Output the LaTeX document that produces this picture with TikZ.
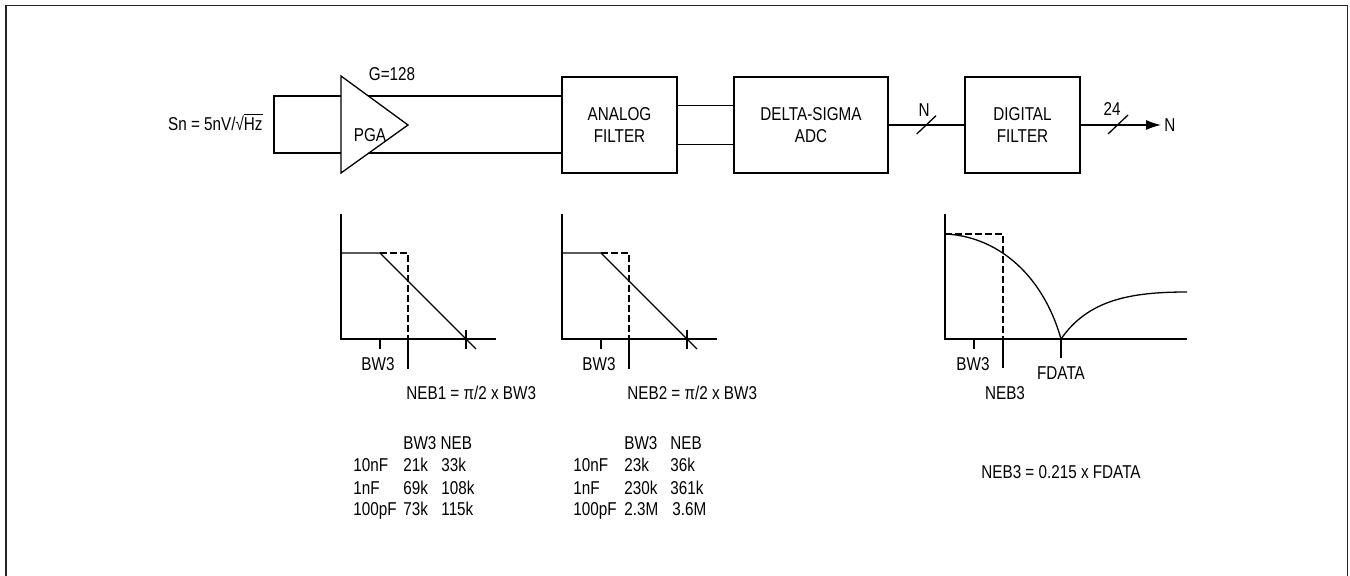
\documentclass[tikz,border=0pt]{standalone}
\usepackage{fontspec}
\setmainfont[FakeStretch=0.82]{Liberation Sans}
\usetikzlibrary{arrows.meta}
\begin{document}
\begin{tikzpicture}[x=0.5pt,y=-0.5pt,
  ln/.style={line width=0.65pt},
  axisln/.style={line width=1.4pt},
  dsh/.style={line width=0.65pt, dash pattern=on 3.3pt off 1.7pt},
  blk/.style={draw, line width=0.7pt, minimum height=48pt, align=center, inner sep=0pt, font=\fontsize{9.3}{11}\selectfont},
  lbl/.style={inner sep=0pt, font=\fontsize{9.3}{11}\selectfont}]
\useasboundingbox (0,0) rectangle (1350,576);
% frame
\draw[line width=0.9pt, black!85] (6,580) -- (6,5.5) -- (1347.5,5.5) -- (1347.5,580);

% blocks
\node[blk, minimum width=57.5pt] (af) at (619.5,125) {ANALOG\\FILTER};
\node[blk, minimum width=77pt] (adc) at (811,125) {DELTA-SIGMA\\ADC};
\node[blk, minimum width=57.5pt] (df) at (1022.5,125) {DIGITAL\\FILTER};

% source and PGA
\coordinate (st) at (274,96);
\coordinate (sb) at (274,153);
\draw[ln] (af.west |- st) -- (st) -- (sb) -- (af.west |- sb);
\draw[ln, fill=white] (341,76) -- (408,125) -- (341,173) -- cycle;
\node[lbl, anchor=base] (pga) at (370,141.7) {PGA};
\node[lbl, anchor=base] (gain) at (392,81) {G=128};
\node[lbl, anchor=base east] (sn) at (263,130.4) {Sn = 5nV/√$\overline{\mbox{Hz}}$};

% connections
\draw[ln] ([yshift=9.65pt]af.east) -- ([yshift=9.65pt]adc.west);
\draw[ln] ([yshift=-9.65pt]af.east) -- ([yshift=-9.65pt]adc.west);
\draw[ln] (adc.east) -- (df.west);
\draw[ln] (916.7,134) -- (936,115.7);
\node[lbl, anchor=base] (nlab) at (924,116.6) {N};
\node[lbl, anchor=west, inner sep=1.5pt] (outN) at (1161,125) {N};
\draw[ln, -{Latex[length=7.5pt,width=5pt]}] (df.east) -- (outN.west);
\draw[ln] (1108,134) -- (1128,115);
\node[lbl, anchor=base] (n24) at (1112,115.6) {24};

% graph 1 and 2 (identical shapes)
\foreach \dx/\nm in {0/1,221/2}{
\begin{scope}[shift={(\dx,0)}]
  \draw[axisln] (341,214) -- (341,339) -- (496,339);
  \draw[ln] (341,253) -- (380,253) -- (476,349);
  \draw[dsh] (380,253) -- (408,253) -- (408,339);
  \draw[ln] (408,339) -- (408,369);
  \draw[ln] (380,339) -- (380,349);
  \draw[ln] (466,330) -- (466,349);
  \node[lbl, anchor=base] (bw\nm) at (378,370.6) {BW3};
  \node[lbl, anchor=base west] (neb\nm) at (406,399.6) {NEB\nm\ = π/2 x BW3};
\end{scope}
}

% graph 3
\draw[axisln] (945,214) -- (945,339) -- (1187,339);
\draw[dsh] (945,234) -- (1003,234) -- (1003,339);
\draw[ln] (1003,339) -- (1003,368);
\draw[ln] (974,339) -- (974,349);
\draw[ln] (1061,339) -- (1061,358);
\draw[ln] (945,234) .. controls (995,236) and (1042,272) .. (1061,339);
\draw[ln] (1061,339) .. controls (1088,300) and (1130,292) .. (1187,292);
\node[lbl, anchor=base] (bw3c) at (973,370.6) {BW3};
\node[lbl, anchor=base] (fdata) at (1061,379.6) {FDATA};
\node[lbl, anchor=base] (neb3) at (1005,399.6) {NEB3};
\node[lbl, anchor=base west] (neb3eq) at (981,478.6) {NEB3 = 0.215 x FDATA};

% table 1
\node[lbl, anchor=base west] (t1h) at (403,449.6) {BW3 NEB};
\node[lbl, anchor=base west] (t1a1) at (353,471.6) {10nF};
\node[lbl, anchor=base west] (t1a2) at (403,471.6) {21k};
\node[lbl, anchor=base west] (t1a3) at (441,471.6) {33k};
\node[lbl, anchor=base west] (t1b1) at (353,494.6) {1nF};
\node[lbl, anchor=base west] (t1b2) at (403,494.6) {69k};
\node[lbl, anchor=base west] (t1b3) at (441,494.6) {108k};
\node[lbl, anchor=base west] (t1c1) at (353,515.6) {100pF};
\node[lbl, anchor=base west] (t1c2) at (403,515.6) {73k};
\node[lbl, anchor=base west] (t1c3) at (441,515.6) {115k};

% table 2
\node[lbl, anchor=base west] (t2h1) at (624,449.6) {BW3};
\node[lbl, anchor=base west] (t2h2) at (670,449.6) {NEB};
\node[lbl, anchor=base west] (t2a1) at (573,471.6) {10nF};
\node[lbl, anchor=base west] (t2a2) at (624,471.6) {23k};
\node[lbl, anchor=base west] (t2a3) at (670,471.6) {36k};
\node[lbl, anchor=base west] (t2b1) at (573,494.6) {1nF};
\node[lbl, anchor=base west] (t2b2) at (624,494.6) {230k};
\node[lbl, anchor=base west] (t2b3) at (670,494.6) {361k};
\node[lbl, anchor=base west] (t2c1) at (573,515.6) {100pF};
\node[lbl, anchor=base west] (t2c2) at (624,515.6) {2.3M};
\node[lbl, anchor=base west] (t2c3) at (672,515.6) {3.6M};
\end{tikzpicture}
\end{document}
